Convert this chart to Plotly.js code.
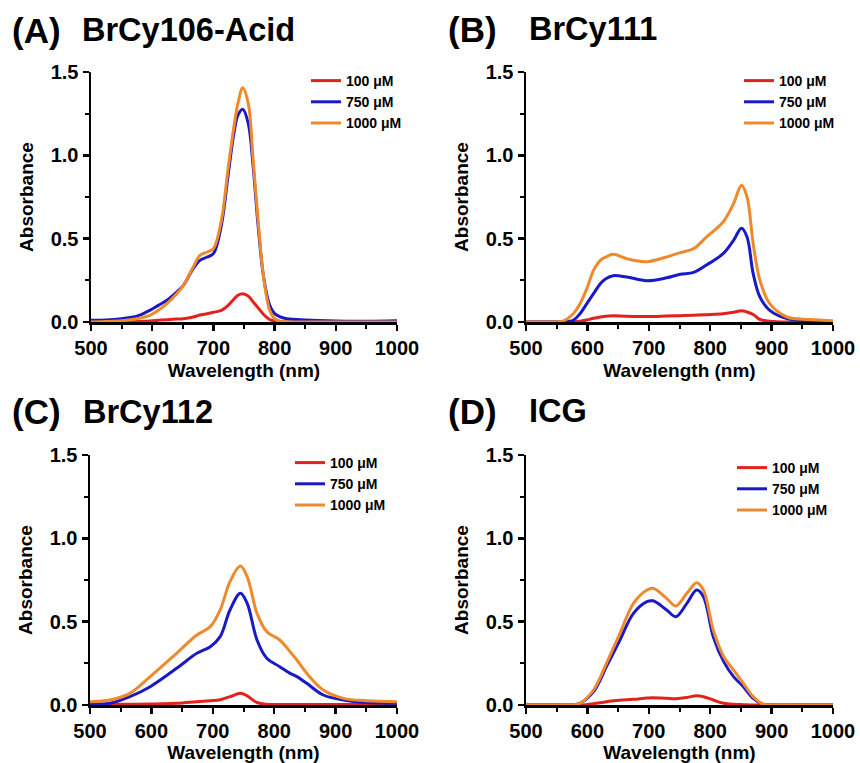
<!DOCTYPE html>
<html>
<head>
<meta charset="utf-8">
<script src="https://cdn.plot.ly/plotly-3.0.1.min.js"></script>
<style>html,body{margin:0;padding:0;background:#fff;}#chart{width:860px;height:763px;}</style>
</head>
<body>
<div id="chart"></div>
<script>
// ---- Data ----
const seriesNames = ["100 μM", "750 μM", "1000 μM"];
const panelLabels = ["(A)", "(B)", "(C)", "(D)"];
const panelNames = ["BrCy106-Acid", "BrCy111", "BrCy112", "ICG"];
const xTicks = [500, 600, 700, 800, 900, 1000];
const yTicks = [0.0, 0.5, 1.0, 1.5];

// Panel A: BrCy106-Acid
const wlA = [500,525,550,575,596,610,624,640,651,667,678,690,700,713,724,733,740,748,757,765,773,782,792,800,810,820,850,900,950,1000];
const redA = [0,0,0,0.003,0.006,0.01,0.014,0.018,0.02,0.03,0.042,0.05,0.058,0.07,0.1,0.135,0.16,0.17,0.155,0.12,0.085,0.045,0.015,0.005,0.002,0,0,0,0,0];
const blueA = [0.01,0.012,0.02,0.035,0.07,0.10,0.13,0.18,0.22,0.32,0.37,0.39,0.41,0.58,0.88,1.12,1.24,1.276,1.19,0.93,0.58,0.27,0.10,0.05,0.03,0.02,0.012,0.006,0.005,0.008];
const orangeA = [0,0.003,0.008,0.02,0.04,0.07,0.11,0.17,0.22,0.33,0.40,0.42,0.44,0.61,0.92,1.16,1.31,1.405,1.31,0.97,0.61,0.27,0.07,0.02,0.005,0,0,0,0,0];

// Panel B: BrCy111
const wlB = [500,540,560,577,588,599,610,621,630,642,664,697,729,751,773,794,821,838,851,860,870,881,897,925,962,1000];
const redB = [0,0,0,0,0.005,0.012,0.022,0.03,0.035,0.038,0.035,0.033,0.036,0.038,0.04,0.044,0.05,0.058,0.068,0.06,0.045,0.015,0.005,0,0,0];
const blueB = [0,0,0,0.01,0.05,0.11,0.17,0.23,0.26,0.278,0.27,0.248,0.265,0.286,0.298,0.342,0.41,0.49,0.562,0.51,0.29,0.15,0.07,0.02,0.005,0.003];
const orangeB = [0,0,0.005,0.05,0.11,0.2,0.31,0.37,0.39,0.406,0.38,0.362,0.39,0.416,0.44,0.51,0.60,0.71,0.82,0.75,0.47,0.25,0.11,0.03,0.015,0.008];

// Panel C: BrCy112
const wlC = [500,532,565,598,641,674,696,712,728,745,756,772,788,809,826,837,853,880,913,950,1000];
const redC = [0.005,0.005,0.005,0.006,0.01,0.02,0.026,0.032,0.05,0.07,0.055,0.015,0.004,0.003,0.003,0.003,0.003,0.003,0.003,0.003,0.003];
const blueC = [0.005,0.01,0.05,0.11,0.22,0.31,0.35,0.41,0.57,0.67,0.61,0.39,0.28,0.23,0.19,0.17,0.13,0.06,0.03,0.015,0.01];
const orangeC = [0.02,0.03,0.07,0.17,0.31,0.42,0.47,0.57,0.74,0.834,0.77,0.55,0.44,0.39,0.32,0.27,0.19,0.09,0.04,0.026,0.02];

// Panel D: ICG
const wlD = [500,550,575,588,610,631,653,675,697,707,729,744,762,778,789,805,822,838,854,870,886,900,950,1000];
const redD = [0,0,0,0,0.008,0.02,0.028,0.034,0.042,0.044,0.04,0.038,0.045,0.056,0.05,0.03,0.01,0.004,0.002,0,0,0,0,0];
const blueD = [0,0,0,0.01,0.08,0.23,0.39,0.55,0.62,0.625,0.57,0.53,0.61,0.69,0.65,0.41,0.26,0.17,0.11,0.04,0.005,0,0,0];
const orangeD = [0,0,0,0.01,0.09,0.25,0.43,0.61,0.69,0.70,0.64,0.594,0.67,0.734,0.69,0.45,0.29,0.21,0.13,0.05,0.005,0,0,0];

const panelData = [
  {x: wlA, ys: [redA, blueA, orangeA]},
  {x: wlB, ys: [redB, blueB, orangeB]},
  {x: wlC, ys: [redC, blueC, orangeC]},
  {x: wlD, ys: [redD, blueD, orangeD]}
];

// ---- Styling ----
const colors = ["#e3221c", "#1919c8", "#ef8a2c"];
const FONT = "Liberation Sans, Arial, Helvetica, sans-serif";
const W = 860, H = 763;

// plot-area pixel boxes [left, right, top, bottom]
const boxes = [
  [91, 397, 72, 322],
  [526, 833, 72, 322],
  [90, 397, 455, 705],
  [526, 833, 455, 705]
];
// legend left/top pixel positions
const legendPos = [[306, 65], [739, 65], [290, 447], [732, 452]];
// title positions: label x, name x, center y
const titlePos = [[10, 80, 30], [446, 527, 29], [10, 81, 412], [446, 527, 411]];

const traces = [];
const layout = {
  width: W, height: H,
  margin: {l: 0, r: 0, t: 0, b: 0},
  paper_bgcolor: "#ffffff",
  plot_bgcolor: "#ffffff",
  font: {family: FONT, color: "#000", weight: 700},
  annotations: [],
  showlegend: true
};

panelData.forEach((p, i) => {
  const n = i + 1;
  const xa = n === 1 ? "x" : "x" + n;
  const ya = n === 1 ? "y" : "y" + n;
  const leg = n === 1 ? "legend" : "legend" + n;
  p.ys.forEach((ys, k) => {
    traces.push({
      type: "scatter", mode: "lines",
      x: p.x, y: ys, name: seriesNames[k],
      xaxis: xa, yaxis: ya, legend: leg,
      line: {color: colors[k], width: 3, shape: "spline", smoothing: 1}
    });
  });
  const b = boxes[i];
  const axCommon = {
    showline: true, linecolor: "#000", linewidth: 2.5,
    showgrid: false, zeroline: false,
    ticks: "outside", ticklen: 6, tickwidth: 2.5, tickcolor: "#000",
    tickfont: {family: FONT, size: 20, color: "#000", weight: 700},
    automargin: false, fixedrange: true
  };
  layout[n === 1 ? "xaxis" : "xaxis" + n] = Object.assign({}, axCommon, {
    domain: [b[0] / W, b[1] / W],
    anchor: ya,
    range: [500, 1000],
    tickvals: xTicks, ticktext: xTicks.map(String),
    minor: {dtick: 50, tick0: 500, ticks: "outside", ticklen: 4, tickwidth: 2, tickcolor: "#000"},
    title: {text: "Wavelength (nm)", font: {family: FONT, size: 19, color: "#000", weight: 700}, standoff: 6}
  });
  layout[n === 1 ? "yaxis" : "yaxis" + n] = Object.assign({}, axCommon, {
    domain: [1 - b[3] / H, 1 - b[2] / H],
    anchor: xa,
    range: [0, 1.5],
    tickvals: yTicks, ticktext: yTicks.map(v => v.toFixed(1)),
    minor: {dtick: 0.25, tick0: 0, ticks: "outside", ticklen: 4, tickwidth: 2, tickcolor: "#000"},
    title: {text: "Absorbance", font: {family: FONT, size: 19, color: "#000", weight: 700}, standoff: 12}
  });
  layout[leg] = {
    x: legendPos[i][0] / W, xanchor: "left",
    y: 1 - legendPos[i][1] / H, yanchor: "top",
    bgcolor: "rgba(0,0,0,0)", borderwidth: 0,
    font: {family: FONT, size: 14, color: "#000", weight: 700},
    itemwidth: 30, tracegroupgap: 0
  };
  const t = titlePos[i];
  layout.annotations.push({
    text: panelLabels[i], xref: "paper", yref: "paper",
    x: t[0] / W, y: 1 - t[2] / H, xanchor: "left", yanchor: "middle",
    showarrow: false, font: {family: FONT, size: 35, color: "#000", weight: 700}
  });
  layout.annotations.push({
    text: panelNames[i], xref: "paper", yref: "paper",
    x: t[1] / W, y: 1 - t[2] / H, xanchor: "left", yanchor: "middle",
    showarrow: false, font: {family: FONT, size: 32.5, color: "#000", weight: 700}
  });
});

Plotly.newPlot("chart", traces, layout, {displayModeBar: false, staticPlot: true});
</script>
</body>
</html>
